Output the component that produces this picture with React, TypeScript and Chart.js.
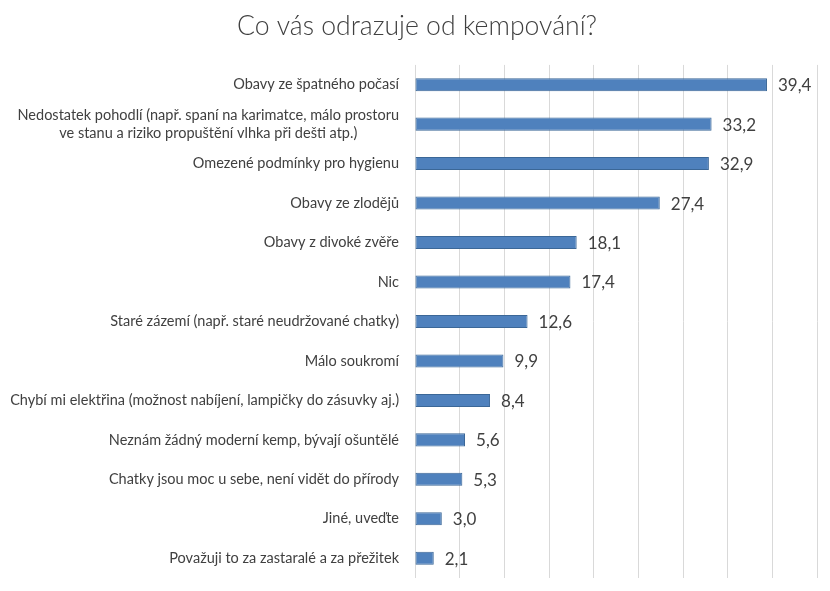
import React, { useEffect, useRef } from "react";
import { Chart, registerables } from "chart.js";

Chart.register(...registerables);

const title = "Co vás odrazuje od kempování?";

const categories: (string | string[])[] = [
  "Obavy ze špatného počasí",
  ["Nedostatek pohodlí (např. spaní na karimatce, málo prostoru", "ve stanu a riziko propuštění vlhka při dešti atp.)"],
  "Omezené podmínky pro hygienu",
  "Obavy ze zlodějů",
  "Obavy z divoké zvěře",
  "Nic",
  "Staré zázemí (např. staré neudržované chatky)",
  "Málo soukromí",
  "Chybí mi elektřina (možnost nabíjení, lampičky do zásuvky aj.)",
  "Neznám žádný moderní kemp, bývají ošuntělé",
  "Chatky jsou moc u sebe, není vidět do přírody",
  "Jiné, uveďte",
  "Považuji to za zastaralé a za přežitek",
];

const values = [39.4, 33.2, 32.9, 27.4, 18.1, 17.4, 12.6, 9.9, 8.4, 5.6, 5.3, 3.0, 2.1];

const axisMin = 0;
const axisMax = 45;
const axisStep = 5;

const FONT = "Lato, 'Open Sans', sans-serif";
const TEXT = "#404040";

const labelPlugin = {
  id: "customLabels",
  afterDraw(chart: any) {
    const ctx = chart.ctx;
    const ys = chart.scales.y;
    const xs = chart.scales.x;
    ctx.save();
    // category labels
    ctx.font = `14.5px ${FONT}`;
    ctx.fillStyle = TEXT;
    ctx.textBaseline = "middle";
    ctx.textAlign = "center";
    const rightX = chart.chartArea.left - 16;
    categories.forEach((lab, i) => {
      const lines = Array.isArray(lab) ? lab : [lab];
      const widths = lines.map((l) => ctx.measureText(l).width);
      const maxW = Math.max(...widths);
      const cx = rightX - maxW / 2;
      const cy = ys.getPixelForValue(i);
      const lh = 18;
      lines.forEach((ln, j) => {
        ctx.fillText(ln, cx, cy + (j - (lines.length - 1) / 2) * lh);
      });
    });
    // value labels
    ctx.font = `17px ${FONT}`;
    ctx.textAlign = "left";
    values.forEach((v, i) => {
      const x = xs.getPixelForValue(v) + 11;
      const y = ys.getPixelForValue(i) + 1;
      ctx.fillText(v.toFixed(1).replace(".", ","), x, y);
    });
    ctx.restore();
  },
};

export default function App() {
  const ref = useRef<HTMLCanvasElement | null>(null);
  useEffect(() => {
    document.body.style.margin = "0";
    const chart = new Chart(ref.current!, {
      type: "bar",
      data: {
        labels: categories as any,
        datasets: [
          {
            data: values,
            backgroundColor: "#4F81BD",
            borderColor: "#3B6797",
            borderWidth: 1,
            borderSkipped: false,
            barPercentage: 0.33,
            categoryPercentage: 1,
          },
        ],
      },
      options: {
        indexAxis: "y",
        animation: false,
        responsive: false,
        layout: { padding: { left: 17, right: 13, top: 0, bottom: 13 } },
        plugins: {
          legend: { display: false },
          tooltip: { enabled: false },
          title: {
            display: true,
            text: title,
            color: TEXT,
            font: { family: FONT, size: 26.6, weight: "300" },
            padding: { top: 10, bottom: 23 },
          },
        },
        scales: {
          x: {
            min: axisMin,
            max: axisMax,
            ticks: { display: false, stepSize: axisStep },
            grid: { color: "#D9D9D9", drawTicks: false, lineWidth: 1 },
            border: { display: false },
          },
          y: {
            ticks: { display: false },
            grid: { display: false, drawTicks: false },
            border: { display: false },
            afterFit(scale: any) {
              scale.width = 398;
            },
          },
        },
      },
      plugins: [labelPlugin],
    });
    return () => chart.destroy();
  }, []);
  return (
    <div style={{ position: "fixed", left: 0, top: 0, width: 830, height: 591, background: "#fff" }}>
      <canvas ref={ref} width={830} height={591} />
    </div>
  );
}
